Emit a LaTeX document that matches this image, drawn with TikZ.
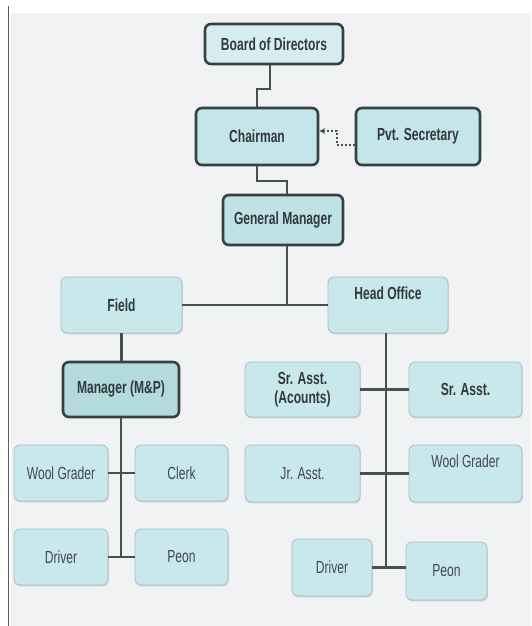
\documentclass[tikz,border=0pt]{standalone}
\usepackage{fontspec}
\setmainfont{Liberation Sans}[FakeStretch=0.69]
\usetikzlibrary{arrows.meta,shadows}

\definecolor{pagebg}{HTML}{F1F2F3}
\definecolor{frameline}{HTML}{5A5A5A}
\definecolor{darkedge}{HTML}{364242}
\definecolor{lightedge}{HTML}{A8BFC2}
\definecolor{lightfill}{HTML}{C8E8EC}
\definecolor{boardfill}{HTML}{D6EEF2}
\definecolor{chairfill}{HTML}{C4E5E9}
\definecolor{gmfill}{HTML}{BEE2E6}
\definecolor{mgrfill}{HTML}{B3DADD}
\definecolor{linkcol}{HTML}{465050}
\definecolor{boldtext}{HTML}{33383D}
\definecolor{plaintext}{HTML}{44445A}

\tikzset{
  unit/.style={rounded corners=6pt, inner sep=0pt, align=center,
    font=\fontsize{17.5}{19}\selectfont},
  headbox/.style={unit, draw=darkedge, line width=2.6pt, text=boldtext,
    font=\fontsize{17.5}{19}\selectfont\bfseries},
  staffbox/.style={unit, draw=lightedge, line width=0.8pt, fill=lightfill,
    drop shadow={shadow xshift=0.8pt, shadow yshift=-1.4pt, fill=black!30, opacity=0.5}},
  boldstaff/.style={staffbox, text=boldtext, font=\fontsize{17.5}{19}\selectfont\bfseries},
  plainstaff/.style={staffbox, text=plaintext},
  toptext/.style={text height=12pt, text depth=24pt},
  link/.style={draw=linkcol, line width=2.2pt},
  aide/.style={draw=linkcol, line width=2pt, dotted,
    -{Stealth[length=6pt,width=6pt,line width=0pt]}}
}

\begin{document}
\begin{tikzpicture}[x=1pt, y=-1pt]
  % page, grey panel and the rule on its left
  \useasboundingbox (0,0) rectangle (531,626);
  \fill[white] (0,0) rectangle (531,626);
  \fill[pagebg] (11,13) rectangle (531,626);
  \draw[frameline, line width=1.4pt] (8.5,6) -- (8.5,626);

  % management
  \node[headbox, fill=boardfill, minimum width=138pt, minimum height=40pt] (bod) at (274,44) {Board of Directors};
  \node[headbox, fill=chairfill, minimum width=122pt, minimum height=57pt] (chair) at (257,136.5) {Chairman};
  \node[headbox, fill=chairfill, minimum width=124pt, minimum height=57pt] (pvt) at (418,136.5) {Pvt. Secretary};
  \node[headbox, fill=gmfill, minimum width=120pt, minimum height=50pt] (gm) at (283,220) {General Manager};

  % divisions
  \node[boldstaff, minimum width=121pt, minimum height=56pt] (field) at (121.5,305) {Field};
  \node[boldstaff, toptext, minimum width=120pt, minimum height=56pt] (ho) at (388,305) {Head Office};

  % field staff
  \node[headbox, fill=mgrfill, minimum width=116pt, minimum height=55pt] (mgr) at (121,389.5) {Manager (M\&P)};
  \node[plainstaff, minimum width=94pt, minimum height=56pt] (wg1) at (61,473) {Wool Grader};
  \node[plainstaff, minimum width=93pt, minimum height=56pt] (clerk) at (181.5,473) {Clerk};
  \node[plainstaff, minimum width=94pt, minimum height=56pt] (dr1) at (61,557) {Driver};
  \node[plainstaff, minimum width=93pt, minimum height=56pt] (peon1) at (181.5,557) {Peon};

  % head office staff
  \node[boldstaff, minimum width=115pt, minimum height=55pt] (sra) at (302.5,389.5) {Sr. Asst.\\(Acounts)};
  \node[boldstaff, minimum width=113pt, minimum height=55pt] (sr) at (465.5,389.5) {Sr. Asst.};
  \node[plainstaff, minimum width=115pt, minimum height=57pt] (jr) at (302.5,473.5) {Jr. Asst.};
  \node[plainstaff, toptext, minimum width=113pt, minimum height=57pt] (wg2) at (465.5,473.5) {Wool Grader};
  \node[plainstaff, minimum width=80pt, minimum height=57pt] (dr2) at (332,567.5) {Driver};
  \node[plainstaff, minimum width=81pt, minimum height=58pt] (peon2) at (446.5,571) {Peon};

  % reporting lines
  \draw[link] ([xshift=-4pt]bod.south) -- ++(0,24) -| (chair.north);
  \draw[link] (chair.south) -- ++(0,15) -| ([xshift=4pt]gm.north);
  \draw[link] ([xshift=4pt]gm.south) -- ([xshift=4pt]gm.south |- field.east);
  \draw[link] (field.east) -- (ho.west);
  \draw[link] (field.south) -- (field.south |- mgr.north);
  \draw[aide] ([yshift=-8.5pt]pvt.west) -- ++(-18,0) |- ([yshift=5.5pt]chair.east);

  % field branch
  \draw[link] (mgr.south) -- (mgr.south |- dr1.east);
  \draw[link] (wg1.east) -- (clerk.west);
  \draw[link] (dr1.east) -- (peon1.west);

  % head office branch
  \draw[link] ([xshift=-2pt]ho.south) -- ([xshift=-2pt]ho.south |- dr2.east);
  \draw[link] (sra.east) -- (sr.west);
  \draw[link] (jr.east) -- (wg2.west);
  \draw[link] (dr2.east) -- (dr2.east -| peon2.west);
\end{tikzpicture}
\end{document}
